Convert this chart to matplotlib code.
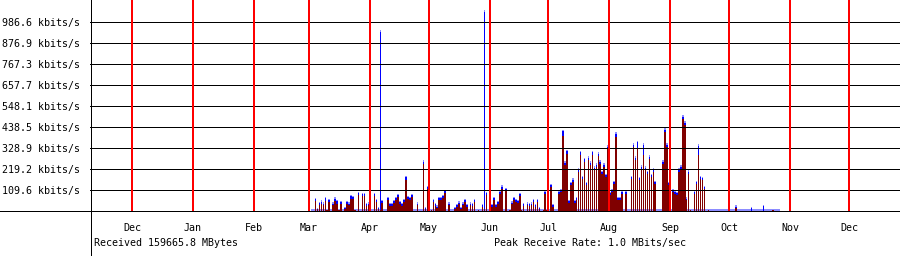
import datetime as dt
import matplotlib
matplotlib.use('Agg')
import matplotlib.pyplot as plt
import matplotlib.dates as mdates
import matplotlib.transforms as mtransforms
from matplotlib.lines import Line2D
import numpy as np

# value axis, kbits/s
grid_kbps = [109.6, 219.2, 328.9, 438.5, 548.1, 657.7, 767.3, 876.9, 986.6]

month_names = ['Dec', 'Jan', 'Feb', 'Mar', 'Apr', 'May', 'Jun',
               'Jul', 'Aug', 'Sep', 'Oct', 'Nov', 'Dec']

# daily rates in kbits/s: dark red (rx) and blue (tx) part of each column
rx_mar = [0, 0, 0, 52, 10, 31, 36, 31, 52, 5, 47, 0, 31, 52, 36, 5, 36, 0, 10, 36, 31, 62, 62, 5, 0, 83, 0, 78, 78, 26, 31]
tx_mar = [0, 0, 0, 10, 0, 10, 12, 8, 14, 0, 10, 0, 8, 12, 15, 0, 10, 0, 5, 10, 8, 14, 10, 0, 0, 10, 0, 10, 10, 8, 8]
rx_apr = [0, 0, 78, 47, 10, 5, 42, 0, 0, 57, 26, 26, 42, 57, 73, 36, 26, 47, 161, 62, 57, 73, 0, 0, 31, 0, 0, 244, 10, 114]
tx_apr = [0, 0, 10, 10, 5, 930, 10, 0, 0, 10, 8, 8, 10, 10, 10, 10, 8, 10, 14, 10, 10, 10, 0, 0, 8, 0, 0, 12, 5, 10]
rx_may = [114, 5, 47, 26, 16, 57, 57, 68, 94, 0, 31, 0, 0, 10, 21, 36, 10, 31, 47, 21, 0, 31, 26, 47, 0, 5, 0, 21, 10, 83, 0]
tx_may = [12, 0, 10, 8, 5, 10, 10, 10, 10, 0, 8, 0, 0, 5, 8, 8, 5, 8, 10, 8, 0, 8, 8, 10, 0, 0, 0, 8, 1030, 10, 0]
rx_jun = [0, 21, 57, 21, 36, 88, 114, 0, 104, 0, 5, 36, 57, 47, 42, 78, 5, 26, 0, 31, 26, 31, 47, 21, 47, 10, 0, 5, 88, 5]
tx_jun = [0, 8, 10, 8, 10, 10, 12, 0, 10, 0, 0, 8, 10, 10, 10, 10, 0, 8, 0, 8, 8, 8, 10, 8, 10, 5, 0, 0, 10, 0]
rx_jul = [0, 125, 21, 0, 0, 88, 99, 390, 239, 296, 42, 135, 151, 42, 57, 203, 291, 166, 255, 135, 265, 239, 291, 213, 229, 286, 244, 192, 229, 177, 322]
tx_jul = [0, 10, 8, 0, 0, 10, 10, 25, 12, 15, 8, 10, 12, 8, 10, 12, 15, 10, 15, 10, 14, 12, 15, 12, 12, 14, 12, 10, 12, 10, 14]
rx_aug = [83, 99, 140, 385, 57, 57, 88, 0, 88, 0, 0, 166, 333, 265, 330, 161, 218, 290, 213, 192, 270, 177, 203, 140, 0, 0, 0, 244, 411, 333, 135]
tx_aug = [10, 10, 10, 18, 10, 10, 10, 0, 10, 0, 0, 10, 14, 12, 30, 10, 12, 55, 12, 10, 12, 10, 12, 10, 0, 0, 0, 12, 14, 12, 10]
rx_sep = [0, 99, 88, 83, 203, 218, 478, 447, 57, 192, 5, 0, 88, 140, 290, 166, 161, 114, 0, 5, 0, 0, 0, 0, 0, 0, 0, 0, 0, 0]
tx_sep = [0, 10, 10, 10, 12, 12, 14, 14, 8, 12, 0, 0, 10, 10, 50, 10, 10, 10, 0, 0, 0, 0, 0, 0, 0, 0, 0, 0, 0, 0]
rx_oct = [0, 0, 0, 16, 0, 0, 0, 0, 0, 0, 0, 0, 0, 0, 0, 0, 0, 0, 0, 0, 0, 0, 5, 0, 0, 0, 0, 0, 0, 0, 0]
tx_oct = [0, 0, 0, 5, 0, 0, 0, 0, 0, 0, 0, 15, 0, 0, 0, 0, 0, 25, 0, 0, 0, 0, 0, 0, 0, 0, 0, 0, 0, 0, 0]

# light blue floor present while the link was up
idle_kbps = 8
idle_from = dt.date(2007, 3, 2)
idle_to = dt.date(2007, 10, 27)

total_text = 'Received 159665.8 MBytes'
peak_text = 'Peak Receive Rate: 1.0 MBits/sec'

# month boundaries Dec 2006 .. Dec 2007
month_starts = [dt.date(2006 + (11 + i) // 12, (11 + i) % 12 + 1, 1) for i in range(13)]

month_data = [(dt.date(2007, 3, 1), rx_mar, tx_mar), (dt.date(2007, 4, 1), rx_apr, tx_apr),
              (dt.date(2007, 5, 1), rx_may, tx_may), (dt.date(2007, 6, 1), rx_jun, tx_jun),
              (dt.date(2007, 7, 1), rx_jul, tx_jul), (dt.date(2007, 8, 1), rx_aug, tx_aug),
              (dt.date(2007, 9, 1), rx_sep, tx_sep), (dt.date(2007, 10, 1), rx_oct, tx_oct)]

days, rx, tx = [], [], []
for start, rx_m, tx_m in month_data:
    for i in range(len(rx_m)):
        days.append(start + dt.timedelta(days=i))
    rx += rx_m
    tx += tx_m
rx = np.array(rx, dtype=float)
tx = np.array(tx, dtype=float)
idle = np.array([idle_kbps if idle_from <= d < idle_to else 0 for d in days], dtype=float)
xs = mdates.date2num(days)

plt.rcParams['font.family'] = 'DejaVu Sans Mono'
plt.rcParams['font.size'] = 7.2

W, H = 900, 256
fig = plt.figure(figsize=(W / 100, H / 100), dpi=100)
ax = fig.add_axes([90 / W, 45 / H, 810 / W, 211 / H])
ax.set_frame_on(False)

day0 = mdates.date2num(month_starts[0])
day1 = mdates.date2num(month_starts[-1])
ax.set_xlim(day0 - 21.4, day1 + 26.0)
ax.set_ylim(0, 211 / 21 * 109.62)

# light blue floor drawn as one continuous band
ax.fill_between(xs, 0, idle, step='post', color='#8c8cff', lw=0, zorder=1)

bw = 0.8
ax.bar(xs, rx, width=bw, align='edge', color='#800000', lw=0, antialiased=False, zorder=2)
ax.bar(xs, tx, width=bw, align='edge', bottom=rx, color='#0000ff', lw=0, antialiased=False, zorder=2)
ax.bar(xs, idle, width=bw, align='edge', bottom=rx + tx, color='#8c8cff', lw=0, antialiased=False, zorder=2)

for v in grid_kbps:
    ax.axhline(v, color='black', lw=0.7, antialiased=False, zorder=3)
for m in month_starts:
    ax.axvline(mdates.date2num(m), color='red', lw=1.4, antialiased=False, zorder=4)

ax.set_xticks([])
ax.set_yticks(grid_kbps)
ax.set_yticklabels(['%.1f kbits/s' % v for v in grid_kbps])
ax.tick_params(axis='y', length=0, pad=7)

# axis lines running across the whole picture
fig.add_artist(Line2D([0, 1], [45.5 / H, 45.5 / H], transform=fig.transFigure,
                      color='black', lw=0.7, antialiased=False))
fig.add_artist(Line2D([90.5 / W, 90.5 / W], [0, 1], transform=fig.transFigure,
                      color='black', lw=0.7, antialiased=False))

trans = mtransforms.blended_transform_factory(ax.transData, fig.transFigure)
for m, name in zip(month_starts, month_names):
    ax.text(mdates.date2num(m), (H - 228) / H, name, transform=trans,
            ha='center', va='center')

fig.text(94 / W, (H - 243) / H, total_text, ha='left', va='center')
fig.text(494 / W, (H - 243) / H, peak_text, ha='left', va='center')

fig.savefig('out.png', dpi=100, facecolor='white')
plt.close(fig)
